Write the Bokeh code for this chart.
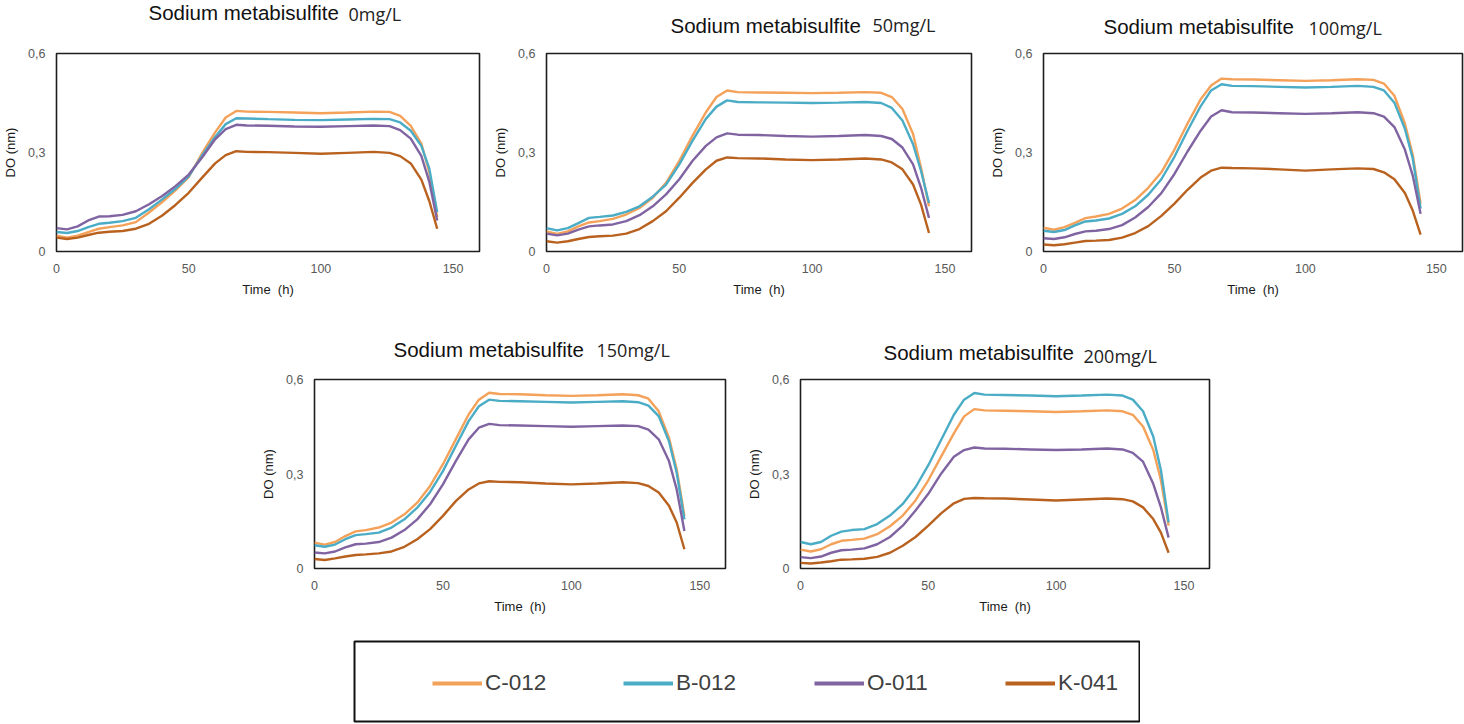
from bokeh.plotting import figure
from bokeh.models import (Range1d, FixedTicker, CustomJSTickFormatter, Legend,
                          LegendItem, Spacer)
from bokeh.core.properties import value
from bokeh.layouts import column, row
from bokeh.embed import file_html
from bokeh.resources import INLINE

TIME = [0, 4, 8, 12, 16, 20, 25, 30, 35, 40, 45, 50, 55, 60, 64, 68, 72, 80, 90, 100,
        110, 120, 126, 130, 134, 138, 141, 144]

SERIES = ["C-012", "B-012", "O-011", "K-041"]
COLORS = ["#F4A15A", "#4BACC6", "#8064A2", "#B9621F"]
TITLE_MAIN = "Sodium metabisulfite"
CONCENTRATIONS = ["0mg/L", "50mg/L", "100mg/L", "150mg/L", "200mg/L"]
Y_TICKS = [0, 0.3, 0.6]
X_TICKS = [0, 50, 100, 150]
X_LABEL = "Time\u00a0\u00a0(h)"
Y_LABEL = "DO (nm)"

# ---- 0 mg/L
c012_0 = [0.048, 0.042, 0.048, 0.059, 0.069, 0.074, 0.079, 0.089, 0.118, 0.150, 0.185, 0.225,
          0.297, 0.361, 0.406, 0.426, 0.424, 0.423, 0.421, 0.419, 0.421, 0.424, 0.423, 0.411,
          0.381, 0.327, 0.240, 0.104]
b012_0 = [0.059, 0.056, 0.062, 0.074, 0.084, 0.087, 0.092, 0.102, 0.128, 0.158, 0.190, 0.228,
          0.290, 0.347, 0.386, 0.404, 0.403, 0.401, 0.399, 0.398, 0.400, 0.402, 0.401, 0.391,
          0.366, 0.320, 0.252, 0.119]
o011_0 = [0.071, 0.067, 0.076, 0.094, 0.106, 0.107, 0.111, 0.122, 0.143, 0.168, 0.198, 0.233,
          0.284, 0.340, 0.371, 0.384, 0.382, 0.381, 0.379, 0.378, 0.380, 0.382, 0.380, 0.368,
          0.342, 0.290, 0.212, 0.094]
k041_0 = [0.042, 0.038, 0.042, 0.050, 0.057, 0.060, 0.062, 0.069, 0.084, 0.109, 0.141, 0.178,
          0.223, 0.267, 0.292, 0.304, 0.302, 0.301, 0.299, 0.296, 0.299, 0.302, 0.299, 0.289,
          0.267, 0.218, 0.153, 0.069]

# ---- 50 mg/L
c012_50 = [0.061, 0.053, 0.061, 0.076, 0.088, 0.092, 0.099, 0.112, 0.132, 0.163, 0.208, 0.275,
           0.351, 0.422, 0.468, 0.488, 0.483, 0.482, 0.481, 0.480, 0.481, 0.483, 0.481, 0.468,
           0.432, 0.356, 0.254, 0.137]
b012_50 = [0.071, 0.064, 0.071, 0.086, 0.102, 0.105, 0.109, 0.120, 0.137, 0.166, 0.203, 0.264,
           0.336, 0.402, 0.439, 0.458, 0.453, 0.452, 0.451, 0.450, 0.451, 0.453, 0.450, 0.435,
           0.397, 0.325, 0.244, 0.147]
o011_50 = [0.054, 0.049, 0.054, 0.066, 0.076, 0.079, 0.082, 0.092, 0.110, 0.137, 0.173, 0.219,
           0.275, 0.320, 0.346, 0.358, 0.354, 0.353, 0.350, 0.348, 0.350, 0.353, 0.350, 0.341,
           0.315, 0.264, 0.193, 0.102]
k041_50 = [0.031, 0.027, 0.031, 0.038, 0.044, 0.046, 0.048, 0.054, 0.068, 0.092, 0.122, 0.163,
           0.208, 0.249, 0.275, 0.285, 0.283, 0.282, 0.279, 0.277, 0.279, 0.282, 0.279, 0.270,
           0.249, 0.203, 0.142, 0.056]

# ---- 100 mg/L
c012_100 = [0.072, 0.066, 0.074, 0.087, 0.101, 0.106, 0.114, 0.130, 0.156, 0.193, 0.240, 0.309,
            0.388, 0.461, 0.503, 0.524, 0.522, 0.521, 0.519, 0.517, 0.519, 0.522, 0.520, 0.509,
            0.472, 0.388, 0.293, 0.145]
b012_100 = [0.063, 0.059, 0.065, 0.079, 0.091, 0.094, 0.100, 0.114, 0.137, 0.172, 0.219, 0.287,
            0.366, 0.440, 0.488, 0.507, 0.502, 0.501, 0.499, 0.497, 0.499, 0.502, 0.499, 0.488,
            0.451, 0.372, 0.282, 0.130]
o011_100 = [0.040, 0.038, 0.043, 0.053, 0.061, 0.063, 0.068, 0.080, 0.103, 0.135, 0.177, 0.235,
            0.303, 0.366, 0.409, 0.428, 0.422, 0.421, 0.419, 0.417, 0.419, 0.422, 0.419, 0.409,
            0.377, 0.309, 0.230, 0.114]
k041_100 = [0.021, 0.019, 0.022, 0.027, 0.032, 0.033, 0.035, 0.042, 0.056, 0.077, 0.108, 0.145,
            0.187, 0.224, 0.245, 0.254, 0.253, 0.252, 0.249, 0.245, 0.249, 0.252, 0.250, 0.240,
            0.219, 0.177, 0.124, 0.051]

# ---- 150 mg/L
c012_150 = [0.082, 0.076, 0.084, 0.103, 0.118, 0.122, 0.130, 0.146, 0.172, 0.209, 0.262, 0.331,
            0.410, 0.489, 0.536, 0.558, 0.554, 0.553, 0.550, 0.548, 0.550, 0.553, 0.550, 0.539,
            0.499, 0.415, 0.315, 0.167]
b012_150 = [0.074, 0.069, 0.076, 0.093, 0.106, 0.109, 0.114, 0.130, 0.156, 0.193, 0.243, 0.309,
            0.389, 0.468, 0.515, 0.536, 0.532, 0.531, 0.529, 0.527, 0.529, 0.531, 0.528, 0.517,
            0.484, 0.404, 0.304, 0.156]
o011_150 = [0.051, 0.048, 0.054, 0.067, 0.077, 0.079, 0.084, 0.098, 0.122, 0.156, 0.204, 0.267,
            0.341, 0.410, 0.447, 0.459, 0.455, 0.454, 0.452, 0.450, 0.452, 0.454, 0.452, 0.441,
            0.410, 0.341, 0.251, 0.119]
k041_150 = [0.030, 0.027, 0.032, 0.038, 0.043, 0.045, 0.048, 0.054, 0.069, 0.093, 0.125, 0.167,
            0.214, 0.251, 0.270, 0.277, 0.275, 0.274, 0.270, 0.267, 0.270, 0.274, 0.271, 0.262,
            0.241, 0.199, 0.146, 0.061]

# ---- 200 mg/L
c012_200 = [0.060, 0.054, 0.061, 0.077, 0.088, 0.091, 0.095, 0.109, 0.134, 0.168, 0.216, 0.280,
            0.355, 0.429, 0.483, 0.506, 0.502, 0.501, 0.499, 0.497, 0.499, 0.502, 0.499, 0.488,
            0.451, 0.376, 0.280, 0.136]
b012_200 = [0.084, 0.077, 0.084, 0.104, 0.117, 0.122, 0.125, 0.141, 0.168, 0.205, 0.258, 0.328,
            0.408, 0.488, 0.536, 0.557, 0.552, 0.551, 0.549, 0.547, 0.549, 0.552, 0.549, 0.536,
            0.499, 0.419, 0.312, 0.146]
o011_200 = [0.036, 0.033, 0.038, 0.050, 0.058, 0.060, 0.064, 0.077, 0.100, 0.136, 0.184, 0.237,
            0.301, 0.355, 0.376, 0.384, 0.381, 0.380, 0.378, 0.376, 0.378, 0.381, 0.378, 0.367,
            0.339, 0.269, 0.194, 0.098]
k041_200 = [0.018, 0.016, 0.019, 0.023, 0.028, 0.029, 0.031, 0.037, 0.050, 0.072, 0.100, 0.136,
            0.175, 0.207, 0.221, 0.224, 0.223, 0.222, 0.219, 0.216, 0.219, 0.222, 0.220, 0.213,
            0.194, 0.157, 0.114, 0.050]

PANELS = [
    [c012_0, b012_0, o011_0, k041_0],
    [c012_50, b012_50, o011_50, k041_50],
    [c012_100, b012_100, o011_100, k041_100],
    [c012_150, b012_150, o011_150, k041_150],
    [c012_200, b012_200, o011_200, k041_200],
]

PAGE_W = 1464

# panel figure geometry (width, height, min borders)
GEOM = [
    dict(w=490, h=272, l=56, r=11, t=13, b=61),
    dict(w=497, h=272, l=56, r=16, t=13, b=61),
    dict(w=477, h=272, l=56, r=2, t=13, b=61),
    dict(w=486, h=270, l=56, r=19, t=9, b=72),
    dict(w=481, h=270, l=56, r=16, t=9, b=72),
]

fmt = CustomJSTickFormatter(code="""
    if (Math.abs(tick) < 1e-9) { return "0"; }
    return tick.toFixed(1).replace(".", ",");
""")


def make_panel(i):
    g = GEOM[i]
    p = figure(width=g["w"], height=g["h"], x_range=Range1d(0, 160), y_range=Range1d(0, 0.6),
               output_backend="svg", toolbar_location=None,
               min_border_left=g["l"], min_border_right=g["r"],
               min_border_top=g["t"], min_border_bottom=g["b"])
    p.outline_line_color = "#1e1e1e"
    p.outline_line_width = 1.6
    p.xgrid.visible = False
    p.ygrid.visible = False
    for ax in (p.xaxis[0], p.yaxis[0]):
        ax.axis_line_color = None
        ax.major_tick_line_color = None
        ax.minor_tick_line_color = None
        ax.major_tick_out = 0
        ax.major_tick_in = 0
        ax.minor_tick_out = 0
        ax.major_label_text_font = "Liberation Sans"
        ax.major_label_text_font_size = "12.5px"
        ax.major_label_text_color = "#595959"
        ax.axis_label_text_font = "Liberation Sans"
        ax.axis_label_text_font_size = "13px"
        ax.axis_label_text_font_style = "normal"
        ax.axis_label_text_color = "#1a1a1a"
    p.xaxis.ticker = FixedTicker(ticks=X_TICKS)
    p.yaxis.ticker = FixedTicker(ticks=Y_TICKS)
    p.yaxis.formatter = fmt
    p.xaxis.axis_label = X_LABEL
    p.yaxis.axis_label = Y_LABEL
    p.xaxis.major_label_standoff = 12
    p.xaxis.axis_label_standoff = 6
    p.yaxis.major_label_standoff = 11
    p.yaxis.axis_label_standoff = 7

    for color, vals in zip(COLORS, PANELS[i]):
        p.line(TIME, vals, line_color=color, line_width=2.4)
    return p


def make_title_strip(height, mains, suffixes):
    """A bare strip (pixel coordinates, y downward) holding the panel titles."""
    s = figure(width=PAGE_W, height=height, x_range=Range1d(0, PAGE_W),
               y_range=Range1d(height, 0), output_backend="svg", toolbar_location=None,
               x_axis_location=None, y_axis_location=None,
               min_border_left=0, min_border_right=0, min_border_top=0, min_border_bottom=0)
    s.outline_line_color = None
    s.xgrid.visible = False
    s.ygrid.visible = False
    s.text(x=[m[0] for m in mains], y=[m[1] for m in mains],
           text=[TITLE_MAIN] * len(mains), text_font=value("Liberation Sans"),
           text_font_size="20.5px", text_color="#111111",
           text_baseline="alphabetic", text_align="left")
    s.text(x=[q[0] for q in suffixes], y=[q[1] for q in suffixes],
           text=[q[2] for q in suffixes], text_font=value("Open Sans"),
           text_font_size="18px", text_color="#222222",
           text_baseline="alphabetic", text_align="left")
    return s


panels = [make_panel(i) for i in range(5)]

strip1 = make_title_strip(40, [(148, 11.5), (670, 24.5), (1103, 25.5)],
                          [(348, 13.5, CONCENTRATIONS[0]), (872, 24, CONCENTRATIONS[1]),
                           (1308, 27, CONCENTRATIONS[2])])
strip2 = make_title_strip(58, [(393, 36.5), (883, 39.5)],
                          [(596, 37, CONCENTRATIONS[3]), (1083, 43, CONCENTRATIONS[4])])

# legend box
leg = figure(width=787, height=84, x_range=Range1d(0, 1), y_range=Range1d(10, 11),
             output_backend="svg", toolbar_location=None,
             x_axis_location=None, y_axis_location=None,
             min_border_left=1, min_border_right=1, min_border_top=1, min_border_bottom=3)
leg.xgrid.visible = False
leg.ygrid.visible = False
leg.outline_line_color = "#111111"
leg.outline_line_width = 2
items = []
for name, color, vals in zip(SERIES, COLORS, PANELS[0]):
    r = leg.line(TIME, vals, line_color=color, line_width=4)  # outside the view: legend swatch only
    items.append(LegendItem(label=name, renderers=[r]))
legend = Legend(items=items, orientation="horizontal", location=(78, 23),
                glyph_width=50, glyph_height=30, label_width=138, label_standoff=3,
                spacing=0, padding=0, margin=0, border_line_color=None,
                background_fill_alpha=0,
                label_text_font="Liberation Sans", label_text_font_size="22.5px",
                label_text_color="#404040")
leg.add_layout(legend, "center")

layout = column(
    strip1,
    row(panels[0], panels[1], panels[2]),
    strip2,
    row(Spacer(width=258, height=270), panels[3], panels[4]),
    row(Spacer(width=353, height=84), leg),
)

open("out.html", "w").write(file_html(layout, INLINE))
